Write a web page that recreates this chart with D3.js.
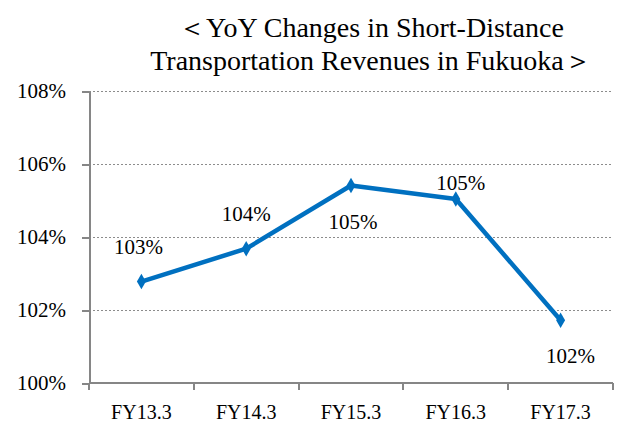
<!DOCTYPE html>
<html lang="en">
<head>
<meta charset="utf-8">
<script src="https://d3js.org/d3.v7.min.js"></script>
<style type="text/css">
body { margin: 0; background: #fff; }
svg text { font-family: "Liberation Serif", Tinos, "Times New Roman", "DejaVu Serif", serif; fill: #000; }
.axis path, .axis line { stroke: #868686; stroke-width: 2; shape-rendering: crispEdges; }
.grid line { stroke: #8c8c8c; stroke-width: 1; stroke-dasharray: 2,2; shape-rendering: crispEdges; }
</style>
</head>
<body>
<div id="chart"></div>
<script type="text/javascript">

// chart data
var years = ["FY13.3", "FY14.3", "FY15.3", "FY16.3", "FY17.3"];
var yoy = [102.78, 103.68, 105.41, 105.04, 101.72];
var valueLabels = ["103%", "104%", "105%", "105%", "102%"];
var yTicks = [100, 102, 104, 106, 108];
var titleLines = ["\uFF1CYoY Changes in Short-Distance", "Transportation Revenues in Fukuoka\uFF1E"];

var width = 625, height = 426;
var margin = {top: 91, right: 12, bottom: 43, left: 89};
var serif = "'Liberation Serif', Tinos, 'Times New Roman', 'DejaVu Serif', serif";

var svg = d3.select("#chart")
  .append("svg")
  .attr("width", width)
  .attr("height", height);

// title
svg.append("g").selectAll("text")
  .data(titleLines)
  .enter()
  .append("text")
  .attr("x", 371)
  .attr("y", function(d, i) { return 37 + i * 33; })
  .attr("text-anchor", "middle")
  .style("font-family", serif)
  .style("font-size", "28px")
  .text(function(d) { return d; });

var x = d3.scaleBand()
  .domain(years)
  .range([margin.left, width - margin.right]);

var y = d3.scaleLinear()
  .domain([100, 108])
  .range([height - margin.bottom, margin.top]);

// dotted gridlines
svg.append("g")
  .attr("class", "grid")
  .selectAll("line")
  .data(yTicks.slice(1))
  .enter()
  .append("line")
  .attr("x1", margin.left)
  .attr("x2", width - margin.right)
  .attr("y1", function(d) { return y(d); })
  .attr("y2", function(d) { return y(d); });

// y axis
var yAxis = svg.append("g")
  .attr("class", "axis")
  .attr("transform", "translate(" + margin.left + ",0)")
  .call(d3.axisLeft(y).tickValues(yTicks).tickSize(7).tickSizeOuter(0)
    .tickFormat(function(d) { return d + "%"; }));
yAxis.attr("font-family", null);
yAxis.selectAll("text")
  .attr("x", -23)
  .style("font-size", "21px")
  .style("font-family", serif);

// x axis (ticks at band edges)
var xAxis = svg.append("g")
  .attr("class", "axis")
  .attr("transform", "translate(0," + y(100) + ")");
xAxis.append("line")
  .attr("x1", margin.left)
  .attr("x2", width - margin.right);
xAxis.selectAll(".tk")
  .data(years.concat([null]))
  .enter()
  .append("line")
  .attr("class", "tk")
  .attr("x1", function(d, i) { return margin.left + i * x.bandwidth(); })
  .attr("x2", function(d, i) { return margin.left + i * x.bandwidth(); })
  .attr("y1", 0)
  .attr("y2", 7);
xAxis.selectAll("text")
  .data(years)
  .enter()
  .append("text")
  .attr("x", function(d) { return x(d) + x.bandwidth() / 2; })
  .attr("y", 36)
  .attr("text-anchor", "middle")
  .style("font-family", serif)
  .style("font-size", "20px")
  .text(function(d) { return d; });

// line
var line = d3.line()
  .x(function(d, i) { return x(years[i]) + x.bandwidth() / 2; })
  .y(function(d) { return y(d); });

svg.append("path")
  .datum(yoy)
  .attr("d", line)
  .attr("fill", "none")
  .attr("stroke", "#0070C0")
  .attr("stroke-width", 4.5)
  .attr("stroke-linejoin", "round");

// diamond markers
svg.append("g").selectAll("path")
  .data(yoy)
  .enter()
  .append("path")
  .attr("d", d3.symbol().type(d3.symbolDiamond).size(70))
  .attr("transform", function(d, i) {
    return "translate(" + (x(years[i]) + x.bandwidth() / 2) + "," + y(d) + ")";
  })
  .attr("fill", "#0070C0");

// data labels, nudged like the original
var nudge = [[-3, -28], [0, -28], [2, 43], [5, -9], [10, 43]];
svg.append("g").selectAll("text")
  .data(yoy)
  .enter()
  .append("text")
  .attr("x", function(d, i) { return x(years[i]) + x.bandwidth() / 2 + nudge[i][0]; })
  .attr("y", function(d, i) { return y(d) + nudge[i][1]; })
  .attr("text-anchor", "middle")
  .style("font-family", serif)
  .style("font-size", "21px")
  .text(function(d, i) { return valueLabels[i]; });

</script>
</body>
</html>
